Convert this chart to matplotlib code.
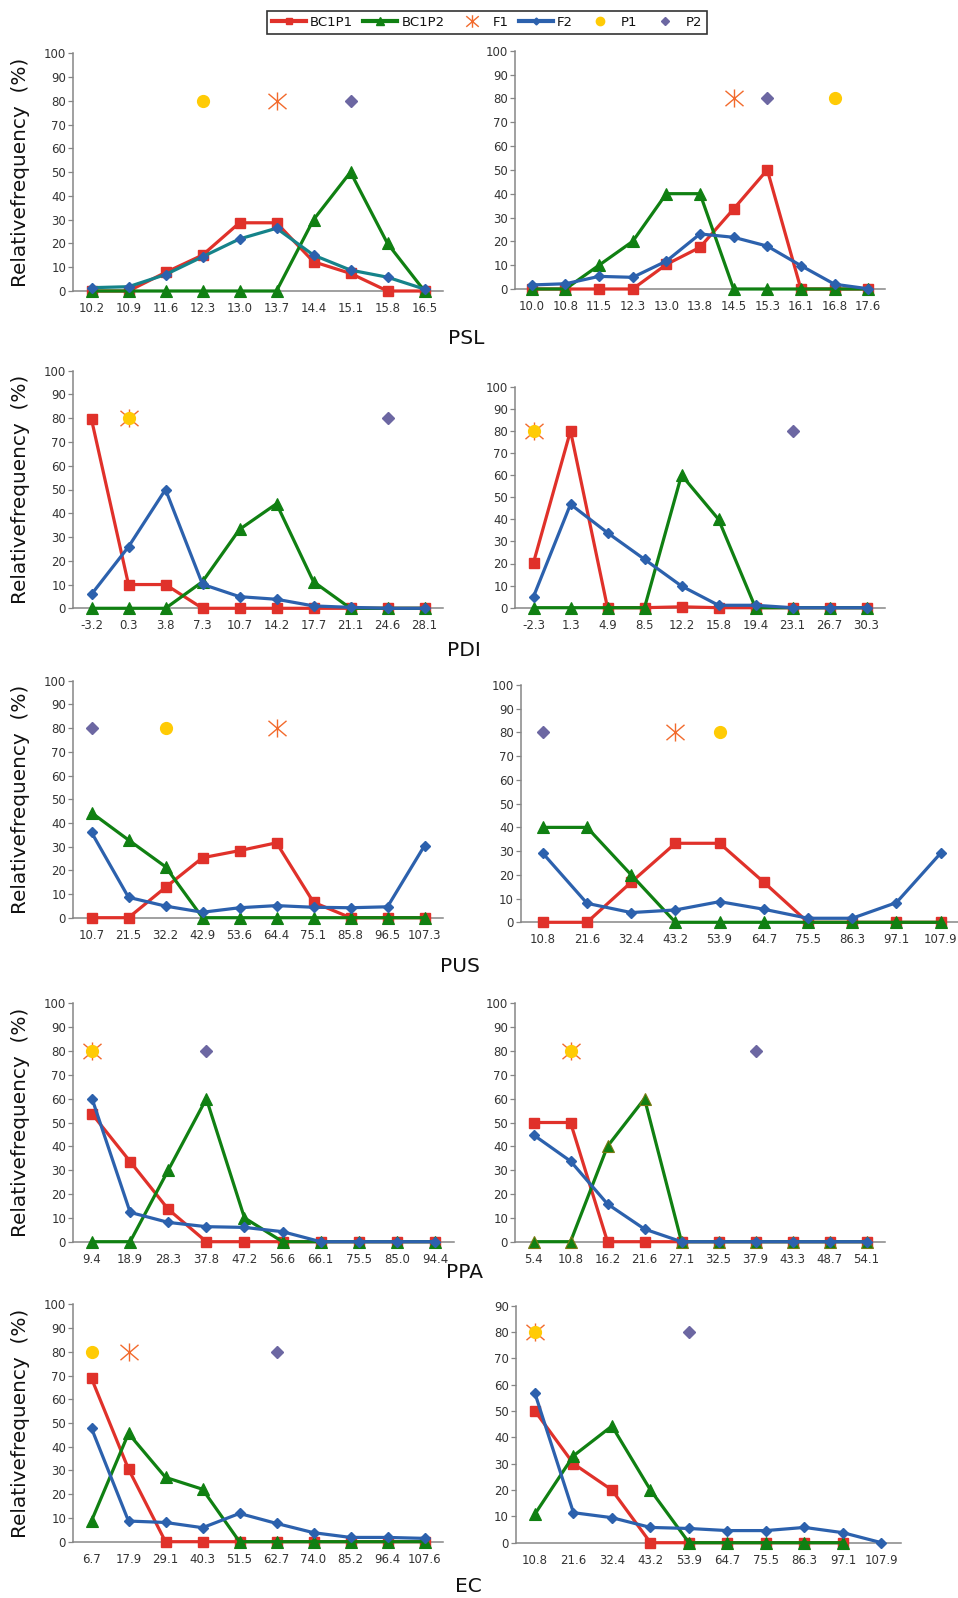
import numpy as np
import matplotlib
matplotlib.use("Agg")
import matplotlib.pyplot as plt
from matplotlib.lines import Line2D
from matplotlib.path import Path

# ---------------- data ----------------
PARENT_Y = 80  # parents / F1 plotted at 80 %

# PSL
PSL_L_X = ["10.2", "10.9", "11.6", "12.3", "13.0", "13.7", "14.4", "15.1", "15.8", "16.5"]
PSL_L_BC1P1 = [0, 0, 7.8, 15.1, 28.7, 28.7, 12.3, 7.4, 0, 0]
PSL_L_BC1P2 = [0, 0, 0, 0, 0, 0, 30, 50, 20, 0]
PSL_L_F2 = [1.4, 1.8, 6.9, 14.4, 21.9, 26.4, 15.1, 8.8, 5.8, 0.8]
PSL_L_PAR = {"P1": "12.3", "F1": "13.7", "P2": "15.1"}

PSL_R_X = ["10.0", "10.8", "11.5", "12.3", "13.0", "13.8", "14.5", "15.3", "16.1", "16.8", "17.6"]
PSL_R_BC1P1 = [0, 0, 0, 0, 10.3, 17.5, 33.6, 50, 0, 0, 0]
PSL_R_BC1P2 = [0, 0, 10, 20, 40, 40, 0, 0, 0, 0, 0]
PSL_R_F2 = [1.7, 2.2, 5.3, 4.9, 11.7, 23.1, 21.7, 18.0, 9.8, 2.0, 0.1]
PSL_R_PAR = {"P1": "16.8", "F1": "14.5", "P2": "15.3"}

# PDI
PDI_L_X = ["-3.2", "0.3", "3.8", "7.3", "10.7", "14.2", "17.7", "21.1", "24.6", "28.1"]
PDI_L_BC1P1 = [79.5, 10, 10, 0, 0, 0, 0, 0, 0, 0]
PDI_L_BC1P2 = [0, 0, 0, 11.2, 33.2, 44, 11.2, 0, 0, 0]
PDI_L_F2 = [5.9, 25.9, 50, 10.1, 4.9, 3.8, 1.0, 0.4, 0, 0]
PDI_L_PAR = {"P1": "0.3", "F1": "0.3", "P2": "24.6"}

PDI_R_X = ["-2.3", "1.3", "4.9", "8.5", "12.2", "15.8", "19.4", "23.1", "26.7", "30.3"]
PDI_R_BC1P1 = [20.4, 80, 0, 0, 0.4, 0, 0, 0, 0, 0]
PDI_R_BC1P2 = [0, 0, 0, 0, 60, 40, 0, 0, 0, 0]
PDI_R_F2 = [5.0, 46.8, 33.9, 21.9, 9.8, 1.1, 1.1, 0, 0, 0]
PDI_R_PAR = {"P1": "-2.3", "F1": "-2.3", "P2": "23.1"}

# PUS
PUS_L_X = ["10.7", "21.5", "32.2", "42.9", "53.6", "64.4", "75.1", "85.8", "96.5", "107.3"]
PUS_L_BC1P1 = [0, 0, 12.8, 25.3, 28.3, 31.6, 6.5, 0, 0, 0]
PUS_L_BC1P2 = [44.3, 32.8, 21.5, 0, 0, 0, 0, 0, 0, 0]
PUS_L_F2 = [36.0, 8.6, 4.9, 2.3, 4.2, 5.1, 4.4, 4.2, 4.6, 30.4]
PUS_L_PAR = {"P1": "32.2", "F1": "64.4", "P2": "10.7"}

PUS_R_X = ["10.8", "21.6", "32.4", "43.2", "53.9", "64.7", "75.5", "86.3", "97.1", "107.9"]
PUS_R_BC1P1 = [0, 0, 16.9, 33.3, 33.3, 16.9, 0, 0, 0, 0]
PUS_R_BC1P2 = [40, 40, 20, 0, 0, 0, 0, 0, 0, 0]
PUS_R_F2 = [29.1, 8.0, 4.1, 5.2, 8.7, 5.5, 1.7, 1.7, 8.3, 29.1]
PUS_R_PAR = {"P1": "53.9", "F1": "43.2", "P2": "10.8"}

# PPA
PPA_L_X = ["9.4", "18.9", "28.3", "37.8", "47.2", "56.6", "66.1", "75.5", "85.0", "94.4"]
PPA_L_BC1P1 = [53.6, 33.6, 13.6, 0, 0, 0, 0, 0, 0, 0]
PPA_L_BC1P2 = [0, 0, 30, 60, 10, 0, 0, 0, 0, 0]
PPA_L_F2 = [60, 12.3, 8.1, 6.3, 6.0, 4.2, 0, 0, 0, 0]
PPA_L_PAR = {"P1": "9.4", "F1": "9.4", "P2": "37.8"}

PPA_R_X = ["5.4", "10.8", "16.2", "21.6", "27.1", "32.5", "37.9", "43.3", "48.7", "54.1"]
PPA_R_BC1P1 = [50, 50, 0, 0, 0, 0, 0, 0, 0, 0]
PPA_R_BC1P2 = [0, 0, 40, 60, 0, 0, 0, 0, 0, 0]
PPA_R_F2 = [44.8, 33.8, 15.8, 5.3, 0, 0, 0, 0, 0, 0]
PPA_R_PAR = {"P1": "10.8", "F1": "10.8", "P2": "37.9"}

# EC
EC_L_X = ["6.7", "17.9", "29.1", "40.3", "51.5", "62.7", "74.0", "85.2", "96.4", "107.6"]
EC_L_BC1P1 = [68.8, 30.6, 0, 0, 0, 0, 0, 0, 0, 0]
EC_L_BC1P2 = [8.8, 45.6, 27.1, 22.1, 0, 0, 0, 0, 0, 0]
EC_L_F2 = [47.8, 8.7, 8.1, 5.9, 11.9, 7.7, 3.8, 1.8, 1.8, 1.4]
EC_L_PAR = {"P1": "6.7", "F1": "17.9", "P2": "62.7"}

EC_R_X = ["10.8", "21.6", "32.4", "43.2", "53.9", "64.7", "75.5", "86.3", "97.1", "107.9"]
EC_R_BC1P1 = [50, 30, 20, 0, 0, 0, 0, 0, 0, None]
EC_R_BC1P2 = [10.9, 33.0, 44.3, 20, 0, 0, 0, 0, 0, None]
EC_R_F2 = [56.7, 11.4, 9.5, 5.8, 5.4, 4.6, 4.6, 5.8, 3.8, 0]
EC_R_PAR = {"P1": "10.8", "F1": "10.8", "P2": "53.9"}

TITLES = ["PSL", "PDI", "PUS", "PPA", "EC"]
YLABEL = "Relativefrequency  (%)"

# ---------------- style ----------------
RED = "#E0312A"
GREEN = "#108012"
BLUE = "#2C61AD"
TEAL = "#15838A"
ORANGE = "#F26A2C"
YELLOW = "#FFCB05"
PURPLE = "#6C67A2"
AXCOL = "#868686"
TXT = "#333333"

# asterisk marker: vertical bar plus an X
STAR = Path([(0, -1), (0, 1), (-1, -0.85), (1, 0.85), (-1, 0.85), (1, -0.85)],
            [Path.MOVETO, Path.LINETO, Path.MOVETO, Path.LINETO, Path.MOVETO, Path.LINETO])

W, H = 958, 1598
fig = plt.figure(figsize=(W / 100, H / 100), dpi=100)
plt.rcParams["font.family"] = ["DejaVu Sans"]


def rect(x0, x1, ytop, ybot):
    return [x0 / W, 1 - ybot / H, (x1 - x0) / W, (ybot - ytop) / H]


panels = [
    (rect(73, 443, 53.3, 291), PSL_L_X, PSL_L_BC1P1, PSL_L_BC1P2, PSL_L_F2, PSL_L_PAR, 100, TEAL, True, GREEN),
    (rect(515, 885, 50.7, 289), PSL_R_X, PSL_R_BC1P1, PSL_R_BC1P2, PSL_R_F2, PSL_R_PAR, 100, BLUE, False, GREEN),
    (rect(73, 443, 370.7, 608.3), PDI_L_X, PDI_L_BC1P1, PDI_L_BC1P2, PDI_L_F2, PDI_L_PAR, 100, BLUE, True, GREEN),
    (rect(515, 885, 386.7, 607.7), PDI_R_X, PDI_R_BC1P1, PDI_R_BC1P2, PDI_R_F2, PDI_R_PAR, 100, BLUE, False, GREEN),
    (rect(73, 443, 680.7, 917.7), PUS_L_X, PUS_L_BC1P1, PUS_L_BC1P2, PUS_L_F2, PUS_L_PAR, 100, BLUE, True, GREEN),
    (rect(520.7, 962.7, 685, 922.3), PUS_R_X, PUS_R_BC1P1, PUS_R_BC1P2, PUS_R_F2, PUS_R_PAR, 100, BLUE, False, GREEN),
    (rect(73, 454, 1003.3, 1241.7), PPA_L_X, PPA_L_BC1P1, PPA_L_BC1P2, PPA_L_F2, PPA_L_PAR, 100, BLUE, True, GREEN),
    (rect(515, 885, 1003.3, 1241.7), PPA_R_X, PPA_R_BC1P1, PPA_R_BC1P2, PPA_R_F2, PPA_R_PAR, 100, BLUE, False, "#7A7A10"),
    (rect(73, 443, 1304.3, 1541.7), EC_L_X, EC_L_BC1P1, EC_L_BC1P2, EC_L_F2, EC_L_PAR, 100, BLUE, True, GREEN),
    (rect(515.7, 900.7, 1305.7, 1542.7), EC_R_X, EC_R_BC1P1, EC_R_BC1P2, EC_R_F2, EC_R_PAR, 90, BLUE, False, GREEN),
]

LW = 2.3
for (r, cats, s1, s2, f2, par, ymax, f2col, left, tri_edge) in panels:
    ax = fig.add_axes(r)
    y1 = np.array(s1, dtype=float)
    y2 = np.array(s2, dtype=float)
    y3 = np.array(f2, dtype=float)
    ax.plot(cats, y1, color=RED, lw=LW, marker="s", ms=7.5, mfc=RED, mec=RED, zorder=3, clip_on=False)
    ax.plot(cats, y2, color=GREEN, lw=LW, marker="^", ms=8.5, mfc=GREEN, mec=tri_edge, mew=0.8, zorder=3,
            clip_on=False)
    ax.plot(cats, y3, color=f2col, lw=LW, marker="D", ms=5, mfc=BLUE, mec=BLUE, zorder=4, clip_on=False)
    ax.plot([par["F1"]], [PARENT_Y], ls="none", marker=STAR, ms=13, mfc="none", mec=ORANGE, mew=1.0,
            zorder=5)
    ax.plot([par["P1"]], [PARENT_Y], ls="none", marker="o", ms=8.5, mfc=YELLOW, mec=YELLOW, zorder=6)
    ax.plot([par["P2"]], [PARENT_Y], ls="none", marker="D", ms=6.3, mfc=PURPLE, mec=PURPLE, zorder=6)

    ax.set_xlim(-0.5, len(cats) - 0.5)
    ax.set_ylim(0, ymax)
    ax.set_yticks(np.arange(0, ymax + 1, 10))
    for s in ("top", "right"):
        ax.spines[s].set_visible(False)
    for s in ("left", "bottom"):
        ax.spines[s].set_color(AXCOL)
        ax.spines[s].set_linewidth(1.1)
    ax.tick_params(axis="y", length=3.5, width=0.9, color=AXCOL, pad=1.5, labelsize=8.5, labelcolor=TXT)
    ax.tick_params(axis="x", length=0, pad=8, labelsize=8.5, labelcolor=TXT)
    ax.patch.set_alpha(0)
    if left:
        fig.text(21 / W, r[1] + r[3] / 2, YLABEL, rotation=90, ha="center", va="center",
                 fontsize=14.4, color="#111111")

# titles
title_pos = [(466, 339), (464, 650), (460, 967), (464, 1272), (468, 1586)]
for t, (x, y) in zip(TITLES, title_pos):
    fig.text(x / W, 1 - y / H, t, ha="center", va="center", fontsize=14.5, color="#111111")

# legend
handles = [
    Line2D([], [], color=RED, lw=3, marker="s", ms=5, mfc=RED, mec=RED),
    Line2D([], [], color=GREEN, lw=3, marker="^", ms=6, mfc=GREEN, mec=GREEN),
    Line2D([], [], ls="none", marker=STAR, ms=9, mfc="none", mec=ORANGE, mew=1.0),
    Line2D([], [], color=BLUE, lw=3, marker="D", ms=3.5, mfc=BLUE, mec=BLUE),
    Line2D([], [], ls="none", marker="o", ms=6, mfc=YELLOW, mec=YELLOW),
    Line2D([], [], ls="none", marker="D", ms=4, mfc=PURPLE, mec=PURPLE),
]
labels = ["BC1P1", "BC1P2", "F1", "F2", "P1", "P2"]
leg = fig.legend(handles, labels, loc="center", bbox_to_anchor=(487 / W, 1 - 22.5 / H), ncol=6,
                 frameon=True, fancybox=False, edgecolor="black", fontsize=9.5,
                 handlelength=2.6, handletextpad=0.3, columnspacing=0.75, borderpad=0.35,
                 borderaxespad=0)
leg.get_frame().set_linewidth(1.2)
for t in leg.get_texts():
    t.set_color("#111111")

fig.savefig("out.png", dpi=100)
